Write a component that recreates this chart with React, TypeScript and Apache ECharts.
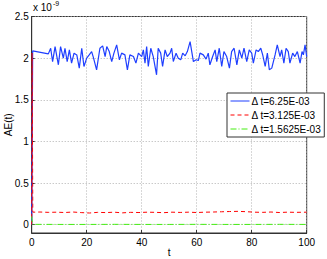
import React, { useEffect, useRef } from "react";
import * as echarts from "echarts";

const tBlue = [0, 0.35, 6.05, 6.9, 7.6, 8.5, 9.7, 10.5, 11.5, 12.1, 12.9, 13.7, 14.5, 15.4, 16.4, 17.3, 18.2, 19, 20, 20.9, 21.8, 22.4, 23.6, 24.8, 25.8, 26.7, 27.3, 28.2, 29.1, 29.9, 30.9, 31.9, 32.7, 33.9, 34.8, 35.7, 37, 37.9, 38.8, 40, 40.6, 41.2, 41.8, 42.4, 43.3, 44.2, 45.4, 46, 46.9, 47.6, 48.5, 49.3, 50.3, 50.9, 51.5, 52.5, 53.3, 54.2, 54.9, 55.8, 56.6, 57.6, 58.2, 58.8, 59.8, 60.6, 61.2, 62.4, 63.4, 64.2, 64.8, 65.8, 66.7, 67.3, 68.2, 69.1, 69.9, 70.9, 71.9, 72.7, 73.6, 74.6, 75.5, 76.4, 77.2, 78.2, 79.1, 80, 80.6, 81.6, 82.4, 83.3, 84, 84.9, 85.7, 86.4, 87.3, 88.5, 89.3, 90.3, 90.9, 91.7, 92.5, 93.3, 93.9, 94.9, 95.7, 96.6, 97.6, 98.3, 98.8, 99.4, 100];
const vBlue = [0, 2.087, 2.051, 2.119, 1.959, 2.139, 1.92, 2.139, 2.0, 2.119, 1.959, 2.099, 1.94, 2.06, 2.039, 1.88, 2.119, 1.9, 2.0, 2.039, 2.079, 2.012, 1.86, 2.119, 2.147, 2.019, 2.139, 2.079, 1.959, 2.06, 2.159, 1.98, 2.06, 2.039, 1.86, 2.039, 2.019, 1.94, 2.06, 2.019, 2.099, 1.94, 2.139, 1.9, 2.119, 2.019, 1.8, 2.119, 2.06, 1.9, 2.099, 2.019, 2.06, 2.119, 1.959, 2.06, 2.0, 1.98, 2.06, 2.028, 2.079, 2.199, 2.079, 1.959, 1.98, 1.971, 2.06, 2.039, 1.988, 2.06, 1.92, 2.019, 2.099, 1.959, 2.119, 1.9, 2.079, 2.019, 1.88, 2.079, 2.119, 1.92, 2.099, 2.0, 2.119, 1.959, 2.099, 2.06, 1.94, 2.099, 2.079, 2.119, 2.039, 1.9, 2.06, 1.86, 1.88, 2.039, 2.159, 2.019, 2.099, 1.94, 2.119, 2.079, 1.94, 2.06, 2.019, 2.079, 1.94, 2.079, 2.039, 2.159, 2.019];

const tRed = [0, 0.15, 0.4, 3, 6, 9, 12, 15, 18, 21, 24, 27, 30, 33, 36, 39, 42, 45, 48, 51, 54, 57, 60, 63, 66, 69, 72, 75, 78, 81, 84, 87, 90, 93, 96, 100];
const vRed = [0, 2.06, 0.15, 0.152, 0.148, 0.15, 0.146, 0.152, 0.145, 0.14, 0.148, 0.145, 0.15, 0.142, 0.148, 0.146, 0.15, 0.148, 0.144, 0.15, 0.147, 0.15, 0.146, 0.15, 0.152, 0.155, 0.158, 0.16, 0.156, 0.15, 0.148, 0.152, 0.146, 0.15, 0.148, 0.15];

const tGreen = [0, 0.3, 10, 20, 30, 40, 50, 60, 70, 80, 90, 100];
const vGreen = [0.1, 0.004, 0.003, 0.003, 0.004, 0.003, 0.003, 0.004, 0.003, 0.003, 0.004, 0.003];

const seriesNames = ["Δ t=6.25E-03", "Δ t=3.125E-03", "Δ t=1.5625E-03"];
const yTicks = [0, 0.5, 1, 1.5, 2, 2.5];

const zip = (t: number[], v: number[]) => t.map((x, i) => [x, v[i]]);

export default function App() {
  const ref = useRef<HTMLDivElement>(null);
  useEffect(() => {
    if (!ref.current) return;
    const chart = echarts.init(ref.current, null, { renderer: "svg" });
    const font = "'Liberation Sans', Arial, Helvetica, sans-serif";
    chart.setOption({
      animation: false,
      backgroundColor: "#fff",
      textStyle: { fontFamily: font },
      grid: {
        left: 31.7,
        right: 20.3,
        top: 16.5,
        bottom: 26,
        containLabel: false,
        outerBoundsMode: "none",
        show: true,
        borderColor: "#333",
        borderWidth: 1,
        backgroundColor: "transparent",
      },
      graphic: [
        {
          type: "text",
          left: 33,
          top: 0,
          style: {
            text: "{a|x 10}{b|-9}",
            rich: {
              a: { fontSize: 10, fontFamily: font, fill: "#000", padding: [4, 0, 0, 0] },
              b: { fontSize: 7, fontFamily: font, fill: "#000", padding: [0, 0, 4, 1] },
            },
          },
        },
      ],
      legend: {
        orient: "vertical",
        left: 227,
        top: 93,
        itemWidth: 19,
        itemHeight: 8,
        itemGap: 4,
        padding: [3, 3, 3, 3],
        backgroundColor: "#fff",
        borderColor: "#333",
        borderWidth: 1,
        borderRadius: 0,
        itemStyle: { color: "rgba(0,0,0,0)", borderWidth: 0, opacity: 0 },
        lineStyle: { width: 1 },
        textStyle: { fontSize: 10, color: "#000", fontFamily: font, padding: [0, 0, 0, -3] },
        data: seriesNames,
      },
      xAxis: {
        type: "value",
        min: 0,
        max: 100,
        interval: 20,
        name: "t",
        nameLocation: "middle",
        nameGap: 14,
        nameMoveOverlap: false,
        nameTextStyle: { fontSize: 10, color: "#000", fontFamily: font },
        axisLine: { show: true, onZero: false, lineStyle: { color: "#333" } },
        axisTick: { show: true, inside: true, length: 3, lineStyle: { color: "#333" } },
        axisLabel: { fontSize: 10, color: "#000", margin: 4, fontFamily: font },
        splitLine: { show: true, lineStyle: { type: [1, 2], color: "#b0b0b0" } },
      },
      yAxis: {
        type: "value",
        min: -0.1,
        max: 2.5,
        name: "AE(t)",
        nameLocation: "middle",
        nameGap: 18,
        nameMoveOverlap: false,
        nameTextStyle: { fontSize: 10, color: "#000", fontFamily: font },
        axisLine: { show: true, onZero: false, lineStyle: { color: "#333" } },
        axisTick: { show: true, inside: true, length: 3, customValues: yTicks, lineStyle: { color: "#333" } },
        axisLabel: { fontSize: 10, color: "#000", margin: 3, customValues: yTicks, fontFamily: font },
        splitLine: { show: true, customValues: yTicks, lineStyle: { type: [1, 2], color: "#b0b0b0" } },
      },
      series: [
        {
          name: seriesNames[0],
          type: "line",
          data: zip(tBlue, vBlue),
          symbol: "none",
          lineStyle: { color: "#1f3fff", width: 1.2 },
          itemStyle: { color: "#1f3fff" },
        },
        {
          name: seriesNames[1],
          type: "line",
          data: zip(tRed, vRed),
          symbol: "none",
          lineStyle: { color: "#ff0000", width: 1, type: [4, 3] },
          itemStyle: { color: "#ff0000" },
        },
        {
          name: seriesNames[2],
          type: "line",
          data: zip(tGreen, vGreen),
          symbol: "none",
          lineStyle: { color: "#44ee11", width: 1, type: [6, 2, 1, 2] },
          itemStyle: { color: "#44ee11" },
        },
      ],
    });
    return () => chart.dispose();
  }, []);
  return <div ref={ref} style={{ width: 327, height: 259, position: "absolute", left: 0, top: 0 }} />;
}
